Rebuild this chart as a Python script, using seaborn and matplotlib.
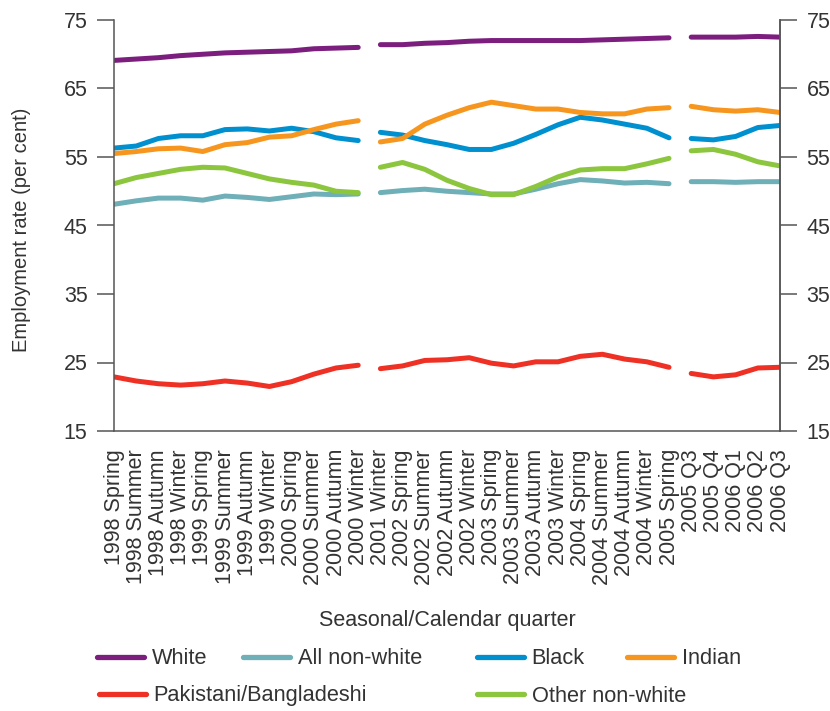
import pandas as pd
import matplotlib
matplotlib.use("Agg")
import matplotlib.pyplot as plt
import seaborn as sns
from matplotlib.lines import Line2D

quarters = ["1998 Spring", "1998 Summer", "1998 Autumn", "1998 Winter",
            "1999 Spring", "1999 Summer", "1999 Autumn", "1999 Winter",
            "2000 Spring", "2000 Summer", "2000 Autumn", "2000 Winter",
            "2001 Winter", "2002 Spring", "2002 Summer", "2002 Autumn",
            "2002 Winter", "2003 Spring", "2003 Summer", "2003 Autumn",
            "2003 Winter", "2004 Spring", "2004 Summer", "2004 Autumn",
            "2004 Winter", "2005 Spring", "2005 Q3", "2005 Q4",
            "2006 Q1", "2006 Q2", "2006 Q3"]
# the series is broken where the survey definitions change
segment = [0] * 12 + [1] * 14 + [2] * 5

white = [69.1, 69.3, 69.5, 69.8, 70.0, 70.2, 70.3, 70.4, 70.5, 70.8, 70.9, 71.0,
         71.4, 71.4, 71.6, 71.7, 71.9, 72.0, 72.0, 72.0, 72.0, 72.0, 72.1, 72.2, 72.3, 72.4,
         72.5, 72.5, 72.5, 72.6, 72.5]
all_nonwhite = [48.1, 48.6, 49.0, 49.0, 48.7, 49.3, 49.1, 48.8, 49.2, 49.6, 49.5, 49.6,
                49.8, 50.1, 50.3, 50.0, 49.8, 49.6, 49.6, 50.3, 51.1, 51.7, 51.5, 51.2, 51.3, 51.1,
                51.4, 51.4, 51.3, 51.4, 51.4]
black = [56.3, 56.6, 57.7, 58.1, 58.1, 59.0, 59.1, 58.8, 59.2, 58.7, 57.8, 57.4,
         58.6, 58.2, 57.4, 56.8, 56.1, 56.1, 57.0, 58.3, 59.7, 60.8, 60.4, 59.8, 59.2, 57.8,
         57.7, 57.5, 58.0, 59.3, 59.6]
indian = [55.5, 55.8, 56.2, 56.3, 55.8, 56.8, 57.1, 57.9, 58.1, 59.0, 59.8, 60.3,
          57.2, 57.7, 59.8, 61.1, 62.2, 63.0, 62.5, 62.0, 62.0, 61.5, 61.3, 61.3, 62.0, 62.2,
          62.4, 61.9, 61.7, 61.9, 61.5]
pak_bang = [22.9, 22.3, 21.9, 21.7, 21.9, 22.3, 22.0, 21.5, 22.2, 23.3, 24.2, 24.6,
            24.1, 24.5, 25.3, 25.4, 25.7, 24.9, 24.5, 25.1, 25.1, 25.9, 26.2, 25.5, 25.1, 24.3,
            23.4, 22.9, 23.2, 24.2, 24.3]
other_nonwhite = [51.1, 52.0, 52.6, 53.2, 53.5, 53.4, 52.6, 51.8, 51.3, 50.9, 50.0, 49.8,
                  53.5, 54.2, 53.2, 51.6, 50.4, 49.5, 49.5, 50.7, 52.1, 53.1, 53.3, 53.3, 54.0, 54.8,
                  55.9, 56.1, 55.4, 54.3, 53.7]

series = {"White": white, "All non-white": all_nonwhite, "Black": black,
          "Indian": indian, "Pakistani/Bangladeshi": pak_bang,
          "Other non-white": other_nonwhite}
colors = {"White": "#7b1e7e", "All non-white": "#6fafb8", "Black": "#0090d0",
          "Indian": "#f7961e", "Pakistani/Bangladeshi": "#ee3124",
          "Other non-white": "#8cc63f"}

rows = []
for name, vals in series.items():
    for i, v in enumerate(vals):
        rows.append({"pos": i, "rate": v, "group": name, "seg": segment[i]})
df = pd.DataFrame(rows)

sns.set_style("white")
plt.rcParams["font.family"] = ["Liberation Sans", "DejaVu Sans"]
TXT = "#333333"
plt.rcParams["text.color"] = TXT
plt.rcParams["xtick.color"] = "#555555"
plt.rcParams["ytick.color"] = "#555555"
plt.rcParams["xtick.labelcolor"] = TXT
plt.rcParams["ytick.labelcolor"] = TXT

fig = plt.figure(figsize=(8.3, 7.11), dpi=100)
ax = fig.add_axes([114 / 830, 1 - 431 / 711, 666 / 830, 411 / 711])

sns.lineplot(data=df, x="pos", y="rate", hue="group", units="seg",
             estimator=None, palette=colors, linewidth=3.6, legend=False, ax=ax)

ax.set_xlim(0, len(quarters) - 1)
ax.set_ylim(15, 75)
yt = [15, 25, 35, 45, 55, 65, 75]
ax.set_yticks(yt)
ax.set_xticks(range(len(quarters)))
ax.set_xticklabels(quarters, rotation=90, fontsize=15.5)
ax.tick_params(axis="x", length=6, width=1.1, pad=7)
ax.tick_params(axis="y", length=12, width=1.1, labelsize=15.5, pad=7)
ax.spines["top"].set_visible(False)
for s in ["left", "right", "bottom"]:
    ax.spines[s].set_color("#555555")
    ax.spines[s].set_linewidth(1.1)

ax2 = ax.twinx()
ax2.set_ylim(15, 75)
ax2.set_yticks(yt)
ax2.tick_params(axis="y", length=12, width=1.1, labelsize=15.5, pad=7)
for s in ["top", "left", "bottom"]:
    ax2.spines[s].set_visible(False)
ax2.spines["right"].set_color("#555555")
ax2.spines["right"].set_linewidth(1.1)

ax.set_ylabel("Employment rate (per cent)", fontsize=14.5, color=TXT)
ax.yaxis.set_label_coords((31 - 114) / 666, 0.49)
ax.set_xlabel("Seasonal/Calendar quarter", fontsize=15.5, color=TXT)
ax.xaxis.set_label_coords(0.5, (431 - 610) / 411)

# legend entries placed like the original two-row key
spots = {"White": (97, 659), "All non-white": (243, 659), "Black": (477, 659),
         "Indian": (627, 659), "Pakistani/Bangladeshi": (99, 696),
         "Other non-white": (477, 696)}
for name, (px, py) in spots.items():
    h = Line2D([], [], color=colors[name], linewidth=3.8)
    fig.legend(handles=[h], labels=[name], loc="center left",
               bbox_to_anchor=(px / 830, 1 - py / 711), frameon=False,
               fontsize=15.7, handlelength=2.15, handletextpad=0.35,
               borderaxespad=0, borderpad=0)

fig.savefig("out.png", dpi=100)
